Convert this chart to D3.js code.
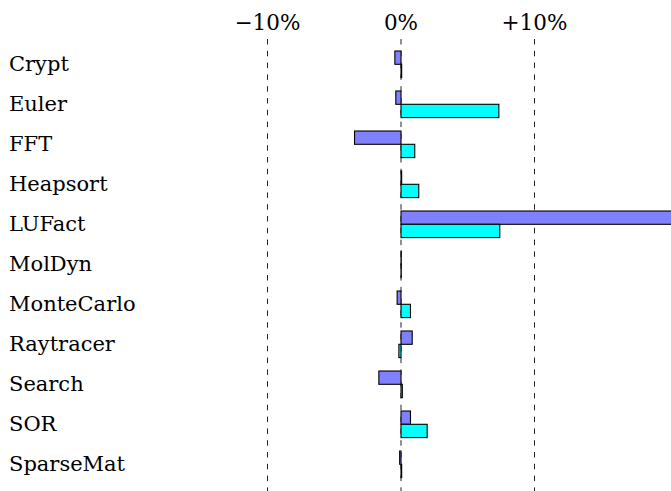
<!DOCTYPE html>
<html>
<head>
<meta charset="utf-8">
<script src="https://cdn.jsdelivr.net/npm/d3@7"></script>
<style>
  html, body { margin: 0; padding: 0; background: #fff; }
  svg { display: block; }
  text { font-family: "DejaVu Serif", "Liberation Serif", serif; fill: #000; }
</style>
</head>
<body>
<svg id="chart" width="671" height="491"></svg>
<script>
// Benchmarks, one group of two bars each
const benchmarks = ["Crypt", "Euler", "FFT", "Heapsort", "LUFact", "MolDyn",
                    "MonteCarlo", "Raytracer", "Search", "SOR", "SparseMat"];
// Relative change in percent, first run (upper bar)
const runA = [-0.46, -0.39, -3.48, 0.05, 25.0, 0.02, -0.29, 0.84, -1.66, 0.71, -0.1];
// Relative change in percent, second run (lower bar)
const runB = [0.05, 7.33, 1.03, 1.33, 7.4, 0.02, 0.71, -0.16, 0.1, 1.96, 0.05];
// Gridline / tick values and their labels
const tickValues = [-10, 0, 10];
const tickLabels = ["\u221210%", "0%", "+10%"];

const svg = d3.select("#chart");
const W = 671, H = 491;

const x = d3.scaleLinear().domain([-10, 10]).range([267, 534]);
const y = d3.scaleBand().domain(benchmarks).range([44.3, 484.3]).paddingInner(0).paddingOuter(0);
const barH = 13.3;

// dashed reference lines
svg.append("g").selectAll("line")
  .data(tickValues)
  .join("line")
  .attr("x1", d => x(d) + 0.5).attr("x2", d => x(d) + 0.5)
  .attr("y1", 39).attr("y2", H)
  .attr("stroke", "#222")
  .attr("stroke-width", 1)
  .attr("stroke-dasharray", "5.5,6.3");

// tick labels along the top
svg.append("g").selectAll("text")
  .data(tickValues)
  .join("text")
  .attr("x", d => x(d) + 0.5)
  .attr("y", 30)
  .attr("text-anchor", "middle")
  .attr("font-size", 21.5)
  .text((d, i) => tickLabels[i]);

// category labels
svg.append("g").selectAll("text")
  .data(benchmarks)
  .join("text")
  .attr("x", 9)
  .attr("y", d => y(d) + y.bandwidth() / 2 + 7)
  .attr("font-size", 21)
  .text(d => d);

const plot = svg.append("g");
function bars(values, offset, fill) {
  plot.append("g").selectAll("rect")
    .data(values)
    .join("rect")
    .attr("x", d => Math.min(x(d), x(0)) + 0.5)
    .attr("y", (d, i) => y(benchmarks[i]) + y.bandwidth() / 2 + offset)
    .attr("width", d => Math.abs(x(d) - x(0)))
    .attr("height", barH)
    .attr("fill", fill)
    .attr("stroke", "#000")
    .attr("stroke-width", 1.1);
}
bars(runA, -barH, "#8080ff");
bars(runB, 0, "#00ffff");
</script>
</body>
</html>
